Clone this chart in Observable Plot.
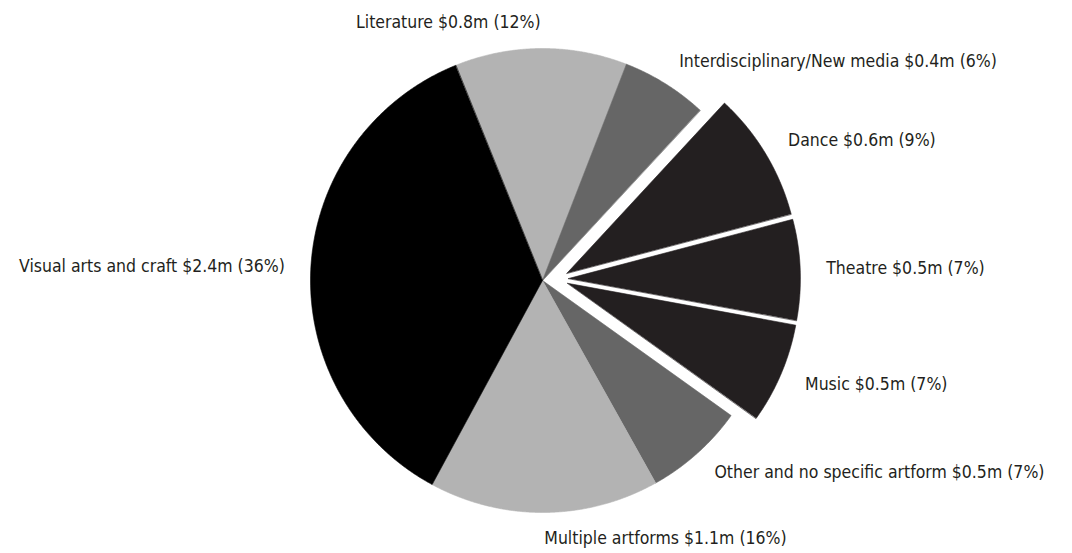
<!DOCTYPE html>
<html>
<head>
<meta charset="utf-8">
<script src="https://cdn.jsdelivr.net/npm/d3@7"></script>
<script src="https://cdn.jsdelivr.net/npm/@observablehq/plot@0.6"></script>
<style>
  html, body { margin: 0; padding: 0; background: #ffffff; }
  #chart svg { display: block; }
</style>
</head>
<body>
<div id="chart"></div>
<script>
// ---- Data ----
const categories = [
  "Literature",
  "Interdisciplinary/New media",
  "Dance",
  "Theatre",
  "Music",
  "Other and no specific artform",
  "Multiple artforms",
  "Visual arts and craft"
];
const amounts = ["$0.8m", "$0.4m", "$0.6m", "$0.5m", "$0.5m", "$0.5m", "$1.1m", "$2.4m"];
const shares = [12, 6, 9, 7, 7, 7, 16, 36];
const explodedCategories = ["Dance", "Theatre", "Music"];

// ---- Styling ----
const palette = ["#b3b3b3", "#666666", "#231f20", "#231f20", "#231f20", "#666666", "#b3b3b3", "#000000"];
const RADIUS = 232;
const START_DEG = -22;      // angle (clockwise from 12 o'clock) where the first slice begins
const GROUP_SHIFT = 15;     // exploded group moved outward together
const SLICE_SHIFT = 11;     // plus each exploded slice along its own bisector
const LABEL_R = 258;
const FONT = "'DejaVu Sans Condensed', 'Liberation Sans Narrow', sans-serif";

const rad = d => d * Math.PI / 180;
const total = d3.sum(shares);

// slice angles
let acc = START_DEG;
const slices = categories.map((c, i) => {
  const a0 = acc;
  const a1 = acc + shares[i] / total * 360;
  acc = a1;
  return { c, i, a0, a1, mid: (a0 + a1) / 2, exploded: explodedCategories.includes(c) };
});
const ex = slices.filter(s => s.exploded);
const groupMid = (ex[0].a0 + ex[ex.length - 1].a1) / 2;

function offset(s) {
  if (!s.exploded) return [0, 0];
  return [
    GROUP_SHIFT * Math.sin(rad(groupMid)) + SLICE_SHIFT * Math.sin(rad(s.mid)),
    GROUP_SHIFT * Math.cos(rad(groupMid)) + SLICE_SHIFT * Math.cos(rad(s.mid))
  ];
}

// polygon outline points for every slice (math coords: y up)
const polyPoints = [];
for (const s of slices) {
  const [ox, oy] = offset(s);
  polyPoints.push({ c: s.c, x: ox, y: oy });
  const n = Math.max(2, Math.ceil((s.a1 - s.a0) / 0.25));
  for (let k = 0; k <= n; k++) {
    const a = rad(s.a0 + (s.a1 - s.a0) * k / n);
    polyPoints.push({ c: s.c, x: ox + RADIUS * Math.sin(a), y: oy + RADIUS * Math.cos(a) });
  }
}

// labels
const labels = slices.map(s => {
  const [ox, oy] = offset(s);
  const a = rad(s.mid);
  return {
    text: `${s.c} ${amounts[s.i]} (${shares[s.i]}%)`,
    x: ox + LABEL_R * Math.sin(a),
    y: oy + LABEL_R * Math.cos(a),
    right: Math.sin(a) >= 0
  };
});

const chart = Plot.plot({
  width: 1072,
  height: 553,
  margin: 0,
  style: { background: "#ffffff", overflow: "visible" },
  x: { domain: [-542, 530], axis: null },
  y: { domain: [-273, 280], axis: null },
  color: { domain: categories, range: palette },
  marks: [
    Plot.line(polyPoints, {
      x: "x", y: "y", z: "c",
      fill: "c", stroke: "c", strokeWidth: 0.6,
      curve: "linear-closed"
    }),
    Plot.text(labels.filter(d => d.right), {
      x: "x", y: "y", text: "text",
      textAnchor: "start", lineAnchor: "middle",
      fontFamily: FONT, fontSize: 17.5, fill: "#231f20"
    }),
    Plot.text(labels.filter(d => !d.right), {
      x: "x", y: "y", text: "text",
      textAnchor: "end", lineAnchor: "middle",
      fontFamily: FONT, fontSize: 17.5, fill: "#231f20"
    })
  ]
});
document.getElementById("chart").appendChild(chart);
</script>
</body>
</html>
